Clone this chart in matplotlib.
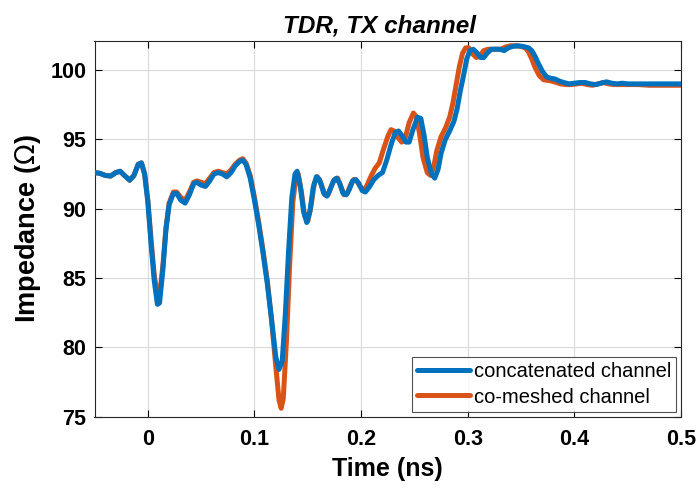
import matplotlib
matplotlib.use("Agg")
import matplotlib.pyplot as plt

# TDR impedance profile of the TX channel, two models
t_concat = [
    -0.05, -0.045, -0.04, -0.035, -0.03, -0.026, -0.022, -0.017, -0.013, -0.009,
    -0.006, -0.003, 0.0, 0.003, 0.006, 0.009, 0.011, 0.014, 0.017, 0.020,
    0.024, 0.027, 0.031, 0.035, 0.039, 0.043, 0.046, 0.050, 0.054, 0.058,
    0.062, 0.066, 0.070, 0.074, 0.078, 0.082, 0.086, 0.089, 0.092, 0.096,
    0.100, 0.104, 0.108, 0.112, 0.116, 0.120, 0.123, 0.126, 0.129, 0.132,
    0.135, 0.138, 0.140, 0.143, 0.146, 0.149, 0.152, 0.155, 0.158, 0.161,
    0.165, 0.168, 0.171, 0.174, 0.177, 0.180, 0.183, 0.186, 0.189, 0.192,
    0.195, 0.198, 0.201, 0.204, 0.208, 0.212, 0.216, 0.220, 0.224, 0.228,
    0.232, 0.235, 0.238, 0.242, 0.245, 0.249, 0.253, 0.256, 0.259, 0.262,
    0.266, 0.269, 0.272, 0.275, 0.279, 0.283, 0.287, 0.290, 0.293, 0.296,
    0.299, 0.302, 0.305, 0.308, 0.312, 0.315, 0.318, 0.322, 0.326, 0.330,
    0.334, 0.338, 0.342, 0.347, 0.352, 0.357, 0.360, 0.363, 0.366, 0.370,
    0.374, 0.378, 0.382, 0.386, 0.390, 0.395, 0.400, 0.405, 0.410, 0.415,
    0.420, 0.425, 0.430, 0.435, 0.440, 0.445, 0.450, 0.460, 0.470, 0.480,
    0.490, 0.500,
]
z_concat = [
    92.6, 92.55, 92.4, 92.35, 92.6, 92.7, 92.4, 92.05, 92.4, 93.2,
    93.3, 92.5, 90.5, 87.5, 84.8, 83.1, 83.2, 85.5, 88.5, 90.3,
    91.1, 91.1, 90.6, 90.4, 91.0, 91.8, 91.9, 91.7, 91.6, 92.0,
    92.5, 92.6, 92.5, 92.3, 92.6, 93.1, 93.4, 93.5, 93.2, 92.2,
    90.6, 88.8, 86.8, 84.6, 82.0, 79.3, 78.4, 79.0, 82.5, 87.0,
    90.8, 92.5, 92.7, 91.6, 89.8, 89.0, 89.8, 91.5, 92.3, 92.1,
    91.1, 90.9, 91.4, 92.0, 92.2, 91.8, 91.1, 91.0, 91.4, 92.0,
    92.1, 91.8, 91.3, 91.2, 91.6, 92.1, 92.4, 92.6, 93.5, 94.6,
    95.5, 95.6, 95.3, 94.8, 94.8, 95.8, 96.6, 96.5, 95.3, 93.7,
    92.5, 92.2, 92.8, 94.0, 95.0, 95.6, 96.3, 97.2, 98.5, 99.6,
    100.8, 101.4, 101.5, 101.3, 100.9, 100.9, 101.2, 101.5, 101.5, 101.5,
    101.4, 101.6, 101.7, 101.75, 101.7, 101.6, 101.4, 101.0, 100.5, 99.9,
    99.5, 99.4, 99.35, 99.2, 99.1, 99.0, 99.05, 99.1, 99.1, 99.0,
    98.95, 99.05, 99.15, 99.05, 99.0, 99.05, 99.0, 99.0, 99.0, 99.0,
    99.0, 99.0,
]

t_comesh = [
    -0.05, -0.045, -0.04, -0.035, -0.03, -0.026, -0.022, -0.017, -0.013, -0.009,
    -0.006, -0.003, 0.0, 0.003, 0.006, 0.009, 0.011, 0.014, 0.017, 0.020,
    0.024, 0.027, 0.031, 0.035, 0.039, 0.043, 0.046, 0.050, 0.054, 0.058,
    0.062, 0.066, 0.070, 0.074, 0.078, 0.082, 0.086, 0.089, 0.092, 0.096,
    0.100, 0.104, 0.108, 0.112, 0.116, 0.120, 0.123, 0.125, 0.127, 0.130,
    0.133, 0.136, 0.139, 0.141, 0.144, 0.147, 0.150, 0.153, 0.156, 0.159,
    0.162, 0.166, 0.169, 0.172, 0.175, 0.178, 0.181, 0.184, 0.187, 0.190,
    0.193, 0.196, 0.199, 0.202, 0.205, 0.209, 0.213, 0.217, 0.221, 0.225,
    0.228, 0.231, 0.234, 0.238, 0.241, 0.245, 0.249, 0.252, 0.255, 0.258,
    0.262, 0.265, 0.268, 0.271, 0.275, 0.279, 0.283, 0.286, 0.289, 0.292,
    0.295, 0.298, 0.301, 0.304, 0.308, 0.311, 0.315, 0.319, 0.323, 0.327,
    0.331, 0.335, 0.340, 0.345, 0.350, 0.354, 0.357, 0.360, 0.363, 0.367,
    0.371, 0.375, 0.379, 0.383, 0.387, 0.392, 0.397, 0.402, 0.407, 0.412,
    0.417, 0.422, 0.427, 0.432, 0.437, 0.442, 0.450, 0.460, 0.470, 0.480,
    0.490, 0.500,
]
z_comesh = [
    92.6, 92.55, 92.4, 92.35, 92.6, 92.7, 92.4, 92.05, 92.4, 93.2,
    93.3, 92.5, 90.6, 87.8, 85.2, 83.7, 83.8, 85.8, 88.6, 90.4,
    91.2, 91.2, 90.8, 90.6, 91.2, 91.9, 92.0, 91.9, 91.8, 92.2,
    92.6, 92.7, 92.6, 92.5, 92.8, 93.2, 93.5, 93.6, 93.3, 92.4,
    90.8, 89.0, 87.0, 84.8, 82.0, 78.6, 76.2, 75.6, 76.3, 80.5,
    86.0, 90.5, 92.4, 92.5, 91.2, 89.5, 89.1, 90.2, 91.8, 92.3,
    91.9, 91.0, 91.0, 91.6, 92.1, 92.2, 91.6, 91.0, 91.1, 91.7,
    92.1, 92.0, 91.6, 91.3, 91.6, 92.3, 92.9, 93.3, 94.3, 95.2,
    95.7, 95.6, 95.2, 94.8, 95.0, 96.2, 96.9, 96.6, 95.3, 93.7,
    92.6, 92.4, 93.0, 94.2, 95.2, 95.8, 96.6, 97.6, 98.9, 100.2,
    101.2, 101.6, 101.6, 101.2, 100.9, 101.0, 101.4, 101.5, 101.5, 101.5,
    101.5, 101.65, 101.75, 101.75, 101.7, 101.6, 101.3, 100.8, 100.2, 99.6,
    99.3, 99.25, 99.2, 99.1, 99.0, 98.95, 98.95, 99.0, 99.05, 98.95,
    98.9, 99.0, 99.1, 99.0, 98.95, 98.95, 98.95, 98.95, 98.9, 98.9,
    98.9, 98.9,
]

x_ticks = [0, 0.1, 0.2, 0.3, 0.4, 0.5]
x_tick_labels = ["0", "0.1", "0.2", "0.3", "0.4", "0.5"]
y_ticks = [75, 80, 85, 90, 95, 100]

plt.rcParams["font.family"] = ["Liberation Sans", "DejaVu Sans"]

fig = plt.figure(figsize=(7.0, 4.93), dpi=100)
ax = fig.add_axes([0.135, 0.155, 0.838, 0.762])

line_kw = dict(linewidth=3.6, solid_joinstyle="round", solid_capstyle="round")
ax.plot(t_comesh, z_comesh, color="#D95319", label="co-meshed channel", zorder=3, **line_kw)
ax.plot(t_concat, z_concat, color="#0072BD", label="concatenated channel", zorder=4, **line_kw)

ax.set_xlim(-0.05, 0.5)
ax.set_ylim(75, 102.1)
ax.set_xticks(x_ticks)
ax.set_xticklabels(x_tick_labels)
ax.set_yticks(y_ticks)
ax.grid(True, color="#d9d9d9", linewidth=0.8)
ax.set_axisbelow(True)

ax.tick_params(direction="in", top=True, right=True, length=5, width=0.8,
               labelsize=15.5)
ax.tick_params(axis="x", pad=9)
ax.tick_params(axis="y", pad=6)
for lbl in ax.get_xticklabels() + ax.get_yticklabels():
    lbl.set_fontweight("bold")
for sp in ax.spines.values():
    sp.set_color("#262626")
    sp.set_linewidth(0.8)

ax.set_xlabel("Time (ns)", fontsize=18, fontweight="bold", labelpad=5)
ax.set_ylabel("Impedance ($\\Omega$)", fontsize=19.5, fontweight="bold", labelpad=5)
ax.set_title("TDR, TX channel", fontsize=17.5, fontweight="bold", style="italic",
             pad=6, x=0.485)

handles, labels = ax.get_legend_handles_labels()
leg = ax.legend(handles[::-1], labels[::-1], loc="lower right", fontsize=14.5,
                frameon=True, fancybox=False, edgecolor="#262626",
                handlelength=2.6, handletextpad=0.2, borderpad=0.25,
                labelspacing=0.3, borderaxespad=0.25)
leg.get_frame().set_linewidth(0.8)

fig.savefig("out.png", dpi=100)
